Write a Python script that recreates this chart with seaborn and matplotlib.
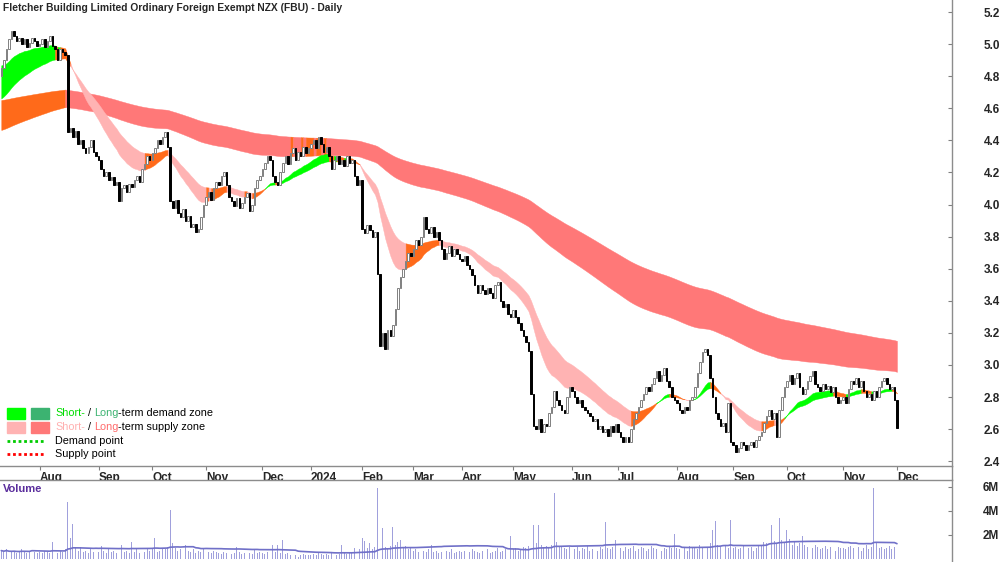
import numpy as np
import pandas as pd
import seaborn as sns
import matplotlib.pyplot as plt
from matplotlib.patches import Rectangle
from matplotlib.lines import Line2D

sns.set_style("white")
plt.rcParams['font.family'] = ['Liberation Sans', 'DejaVu Sans']

title = "Fletcher Building Limited Ordinary Foreign Exempt NZX (FBU) - Daily"

# daily closes, one list per month (Jul 2023 .. Dec 2024)
close_jul23 = [4.85, 4.90, 4.97, 5.03, 5.08, 5.05, 5.02, 5.04, 5.00, 5.03, 4.98, 5.01, 5.04, 5.02, 4.99]
close_aug23 = [5.00, 5.03, 4.98, 5.02, 5.05, 4.99, 4.97, 4.90, 4.97, 4.95, 4.93, 4.45, 4.48, 4.42, 4.46,
               4.38, 4.40, 4.35, 4.32, 4.36, 4.40, 4.33, 4.30]
close_sep23 = [4.28, 4.22, 4.18, 4.20, 4.15, 4.17, 4.12, 4.14, 4.02, 4.10, 4.12, 4.08, 4.13, 4.11, 4.15,
               4.18, 4.14, 4.22, 4.25, 4.30, 4.28]
close_oct23 = [4.32, 4.35, 4.40, 4.38, 4.42, 4.45, 4.36, 4.02, 3.98, 4.03, 3.95, 3.92, 3.97, 3.90, 3.93,
               3.86, 3.88, 3.83, 3.85, 3.92, 4.00]
close_nov23 = [4.05, 4.08, 4.03, 4.10, 4.14, 4.12, 4.18, 4.20, 4.12, 4.05, 4.02, 3.99, 4.04, 3.98, 4.01,
               4.05, 4.07, 3.96, 4.00, 4.10, 4.15, 4.18]
close_dec23 = [4.22, 4.26, 4.30, 4.28, 4.18, 4.14, 4.12, 4.20, 4.26, 4.30, 4.25, 4.32, 4.35, 4.28, 4.33,
               4.30, 4.36, 4.32, 4.35]
close_jan24 = [4.38, 4.40, 4.35, 4.42, 4.38, 4.33, 4.36, 4.30, 4.22, 4.28, 4.30, 4.25, 4.28, 4.24, 4.30,
               4.26, 4.28, 4.18, 4.12, 4.15]
close_feb24 = [3.85, 3.82, 3.87, 3.84, 3.80, 3.83, 3.57, 3.12, 3.20, 3.10, 3.22, 3.18, 3.25, 3.35, 3.48,
               3.55, 3.60, 3.65, 3.70, 3.68]
close_mar24 = [3.72, 3.78, 3.75, 3.80, 3.92, 3.85, 3.82, 3.86, 3.80, 3.83, 3.78, 3.72, 3.66, 3.70, 3.74,
               3.68, 3.72, 3.69, 3.66]
close_apr24 = [3.65, 3.68, 3.62, 3.60, 3.56, 3.50, 3.45, 3.50, 3.47, 3.44, 3.48, 3.45, 3.42, 3.50, 3.52,
               3.40, 3.36, 3.38, 3.32, 3.30]
close_may24 = [3.34, 3.30, 3.26, 3.22, 3.18, 3.14, 3.09, 2.82, 2.62, 2.60, 2.66, 2.58, 2.63, 2.62, 2.70,
               2.74, 2.84, 2.78, 2.75, 2.72, 2.70, 2.80, 2.86]
close_jun24 = [2.84, 2.80, 2.76, 2.78, 2.74, 2.72, 2.70, 2.68, 2.65, 2.66, 2.60, 2.62, 2.58, 2.60, 2.56,
               2.62, 2.58, 2.63]
close_jul24 = [2.58, 2.55, 2.52, 2.55, 2.52, 2.60, 2.66, 2.70, 2.74, 2.78, 2.82, 2.86, 2.84, 2.88, 2.92,
               2.96, 2.90, 2.94, 2.98, 2.90, 2.86, 2.80, 2.78]
close_aug24 = [2.76, 2.72, 2.70, 2.74, 2.72, 2.78, 2.80, 2.86, 2.95, 3.02, 3.08, 3.10, 3.06, 2.92, 2.80,
               2.70, 2.66, 2.62, 2.64, 2.58, 2.76, 2.52]
close_sep24 = [2.50, 2.46, 2.48, 2.52, 2.50, 2.47, 2.50, 2.52, 2.49, 2.53, 2.56, 2.58, 2.64, 2.68, 2.72,
               2.66, 2.70, 2.55, 2.72, 2.80, 2.86]
close_oct24 = [2.90, 2.94, 2.88, 2.92, 2.95, 2.86, 2.82, 2.85, 2.90, 2.93, 2.96, 2.88, 2.86, 2.84, 2.88,
               2.85, 2.87, 2.83, 2.86, 2.80, 2.76, 2.78]
close_nov24 = [2.80, 2.76, 2.85, 2.90, 2.88, 2.92, 2.86, 2.90, 2.84, 2.80, 2.82, 2.78, 2.84, 2.80, 2.86,
               2.90, 2.92, 2.88, 2.85, 2.86, 2.78]
close_dec24 = [2.61]
first_open = 4.80

# daily volume in millions, same months
vol_jul23 = [0.7, 0.6, 0.8, 0.5, 0.6, 0.7, 0.5, 0.6, 0.8, 0.6, 0.5, 0.7, 1.4, 0.6, 0.5]
vol_aug23 = [0.6, 0.5, 0.7, 0.6, 0.5, 1.4, 0.6, 0.5, 0.7, 0.6, 0.8, 4.75, 1.75, 2.9, 0.9, 0.7, 1.0, 0.6,
             0.7, 0.5, 0.8, 0.6, 1.2]
vol_sep23 = [0.6, 1.1, 0.7, 0.5, 0.8, 0.6, 0.7, 0.5, 1.15, 1.15, 0.6, 0.7, 0.5, 1.4, 0.6, 0.8, 0.5, 0.7,
             0.6, 0.9, 0.7]
vol_oct23 = [0.8, 1.75, 0.6, 0.7, 0.9, 0.8, 1.0, 4.1, 1.3, 0.9, 0.7, 0.8, 1.2, 1.2, 0.7, 0.6, 0.8, 0.5,
             0.7, 0.6, 0.8]
vol_nov23 = [1.2, 0.6, 0.5, 0.7, 0.6, 0.5, 0.4, 0.6, 0.5, 0.7, 0.4, 0.5, 1.0, 0.6, 0.4, 0.5, 0.3, 0.5,
             0.4, 0.8, 0.5, 0.6]
vol_dec23 = [0.5, 0.4, 0.6, 0.5, 1.15, 0.6, 1.15, 0.5, 1.6, 0.4, 0.5, 0.3, 0.4, 0.3, 0.2, 0.3, 0.4, 0.3,
             0.3]
vol_jan24 = [0.3, 0.4, 0.3, 0.5, 0.4, 0.3, 0.4, 0.3, 0.5, 0.4, 0.3, 0.4, 1.15, 0.5, 0.4, 0.5, 0.6, 0.9,
             0.7, 0.8]
vol_feb24 = [1.75, 1.5, 0.9, 1.3, 0.8, 1.0, 5.9, 4.15, 2.6, 1.0, 0.9, 1.1, 2.7, 1.2, 1.4, 1.6, 0.9, 1.1,
             0.8, 0.9]
vol_mar24 = [0.7, 0.8, 0.6, 0.9, 0.7, 0.6, 0.8, 1.2, 0.6, 0.7, 0.5, 0.6, 1.5, 0.7, 0.6, 0.8, 0.5, 0.6,
             0.7]
vol_apr24 = [0.6, 0.7, 0.5, 0.6, 0.8, 0.7, 0.6, 0.5, 0.7, 0.6, 0.8, 0.5, 0.6, 0.7, 0.9, 0.6, 0.7, 0.8,
             0.6, 1.9]
vol_may24 = [0.8, 0.9, 0.7, 0.8, 1.0, 0.9, 1.1, 4.0, 2.8, 1.3, 2.8, 1.2, 1.0, 1.1, 0.9, 1.2, 5.5, 1.4,
             1.0, 1.1, 0.9, 0.8, 1.0]
vol_jun24 = [0.9, 0.8, 1.0, 0.7, 0.9, 0.8, 1.1, 0.7, 0.8, 0.9, 0.7, 1.0, 0.8, 3.1, 0.9, 0.8, 1.0, 1.6]
vol_jul24 = [0.8, 0.9, 0.7, 1.0, 0.8, 0.9, 1.1, 0.7, 0.8, 1.0, 0.9, 0.7, 0.8, 1.1, 0.9, 0.8, 1.0, 0.7,
             0.9, 0.8, 1.0, 0.9, 2.1]
vol_aug24 = [0.9, 0.8, 1.0, 0.9, 0.7, 1.1, 0.9, 1.0, 0.8, 1.2, 1.0, 1.1, 0.9, 1.3, 2.4, 3.2, 1.2, 1.0,
             3.2, 1.1, 0.9, 3.25]
vol_sep24 = [0.9, 1.0, 0.8, 0.9, 1.1, 0.8, 0.9, 1.0, 0.7, 0.9, 1.2, 1.1, 1.4, 1.3, 6.0, 2.8, 1.5, 1.3,
             3.4, 1.6, 1.4]
vol_oct24 = [2.4, 1.7, 1.2, 1.4, 1.1, 1.3, 1.9, 1.2, 1.0, 1.1, 0.9, 1.2, 1.0, 0.8, 0.9, 1.1, 0.8, 1.0,
             0.9, 0.7, 1.0, 0.9]
vol_nov24 = [0.9, 0.8, 1.0, 1.1, 0.9, 0.8, 1.0, 0.7, 0.9, 1.2, 0.8, 1.0, 5.9, 1.3, 0.9, 1.0, 0.8, 0.9,
             1.1, 0.8, 1.0]
vol_dec24 = [1.5]

month_labels = ["Aug", "Sep", "Oct", "Nov", "Dec", "2024", "Feb", "Mar", "Apr", "May", "Jun",
                "Jul", "Aug", "Sep", "Oct", "Nov", "Dec"]

close_months = [close_jul23, close_aug23, close_sep23, close_oct23, close_nov23, close_dec23,
                close_jan24, close_feb24, close_mar24, close_apr24, close_may24, close_jun24,
                close_jul24, close_aug24, close_sep24, close_oct24, close_nov24, close_dec24]
vol_months = [vol_jul23, vol_aug23, vol_sep23, vol_oct23, vol_nov23, vol_dec23, vol_jan24, vol_feb24,
              vol_mar24, vol_apr24, vol_may24, vol_jun24, vol_jul24, vol_aug24, vol_sep24, vol_oct24,
              vol_nov24, vol_dec24]

# band settings: (period, starting value) for short fast/slow and long fast/slow
ema_periods = [20, 35, 160, 240]
ema_seeds = [4.87, 4.65, 4.46, 4.65]
vol_ma_window = 50

closes = np.concatenate([np.array(m, float) for m in close_months])
volume = np.concatenate([np.array(m, float) for m in vol_months])
opens = np.r_[first_open, closes[:-1]]
x = np.arange(len(closes))
month_starts = np.cumsum([len(m) for m in close_months])[:-1]


def ema(vals, period, seed):
    a = 2.0 / (period + 1)
    e = seed
    out = []
    for v in vals:
        e = e + a * (v - e)
        out.append(e)
    return np.array(out)


short_fast, short_slow, long_fast, long_slow = [ema(closes, p, s) for p, s in zip(ema_periods, ema_seeds)]

ORANGE = '#ff6a1a'


def draw_band(ax, fast, slow, c_dem, c_sup, z):
    lo = np.minimum(fast, slow)
    hi = np.maximum(fast, slow)
    d = np.diff((fast + slow) / 2)
    state = np.where((fast[1:] > slow[1:]) & (d > 0), 0,
                     np.where((fast[1:] < slow[1:]) & (d < 0), 1, 2))
    cols = [c_dem, c_sup, ORANGE]
    start = 0
    for i in range(1, len(state) + 1):
        if i == len(state) or state[i] != state[start]:
            sl = slice(start, i + 1)
            ax.fill_between(x[sl], lo[sl], hi[sl], color=cols[state[start]], lw=0.3,
                            edgecolor=cols[state[start]], zorder=z)
            start = i


W, H = 1000, 562
fig = plt.figure(figsize=(10, 5.62), dpi=100)
ax = fig.add_axes([0, 1 - 466 / H, 0.952, 466 / H])
ax2 = fig.add_axes([0, 0, 0.952, (H - 480) / H])

draw_band(ax, long_fast, long_slow, '#3cb371', '#ff7878', 1)
draw_band(ax, short_fast, short_slow, '#00ff00', '#ffb3b3', 2)

up = closes >= opens
body = np.abs(closes - opens)
body = np.where(body < 0.006, 0.006, body)
ax.bar(x[up], body[up], bottom=opens[up], width=0.6, color='white', edgecolor='#808080',
       linewidth=0.7, zorder=3)
ax.bar(x[~up], body[~up], bottom=closes[~up], width=0.6, color='black', edgecolor='black',
       linewidth=0.7, zorder=3)

ax.set_xlim(-0.5, 371.5)
ax.set_ylim(2.37, 5.275)
ax.yaxis.tick_right()
yt = np.round(np.arange(2.4, 5.21, 0.2), 1)
ax.set_yticks(yt, labels=[f"{v:.1f}" for v in yt], fontweight='bold', fontsize=8.5)
ax.tick_params(axis='y', direction='in', length=3, pad=23, color='#808080', right=True, left=False)
ax.set_xticks(month_starts, labels=month_labels, ha='left', fontweight='bold', fontsize=8.5)
ax.tick_params(axis='x', direction='out', length=3, pad=1, color='#808080', bottom=True)
for sp in ['top', 'left']:
    ax.spines[sp].set_visible(False)
for sp in ['bottom', 'right']:
    ax.spines[sp].set_color('#8c8c8c')
    ax.spines[sp].set_linewidth(1)

# volume panel
vol_ma = pd.Series(volume).rolling(vol_ma_window, min_periods=1).mean()
ax2.bar(x, volume, width=0.35, color='#a0a0dc', linewidth=0, zorder=2)
sns.lineplot(x=x, y=vol_ma.values, ax=ax2, color='#7070c8', linewidth=1.2, zorder=3)
ax2.set_xlim(-0.5, 371.5)
ax2.set_ylim(-0.25, 6.58)
ax2.yaxis.tick_right()
ax2.set_yticks([2, 4, 6], labels=['2M', '4M', '6M'], fontweight='bold', fontsize=8.5)
ax2.tick_params(axis='y', direction='in', length=3, pad=22, color='#808080', right=True, left=False)
ax2.set_xticks([])
for sp in ['bottom', 'left']:
    ax2.spines[sp].set_visible(False)
for sp in ['top', 'right']:
    ax2.spines[sp].set_color('#8c8c8c')
    ax2.spines[sp].set_linewidth(1)
fig.add_artist(Line2D([0.952, 0.952], [1 - 466 / H, 1 - 480 / H], color='#8c8c8c', lw=1))

fig.text(3 / W, 1 - 8 / H, title, fontweight='bold', fontsize=7.4, va='center', ha='left')
fig.text(3 / W, 1 - 489 / H, 'Volume', color='#5a2d9c', fontweight='bold', fontsize=8,
         va='center', ha='left')

# legend
r = fig.canvas.get_renderer()


def rich(x_px, y_px, parts):
    xx = x_px
    for s, c in parts:
        t = fig.text(xx / W, 1 - y_px / H, s, color=c, fontsize=7.8, va='center', ha='left')
        xx = t.get_window_extent(r).x1


def swatch(x_px, y_px, c):
    fig.add_artist(Rectangle((x_px / W, 1 - (y_px + 11) / H), 18 / W, 11 / H, color=c,
                             transform=fig.transFigure))


swatch(7, 408, '#00ff00')
swatch(31, 408, '#3cb371')
swatch(7, 422, '#ffb3b3')
swatch(31, 422, '#ff7878')
rich(55, 413, [("Short-", '#00dd00'), (" / ", 'black'), ("Long", '#3cb371'), ("-term demand zone", 'black')])
rich(55, 427, [("Short-", '#ffb0b0'), (" / ", 'black'), ("Long", '#ff6b6b'), ("-term supply zone", 'black')])
fig.add_artist(Line2D([7 / W, 44 / W], [1 - 441 / H, 1 - 441 / H], color='#00cc00', lw=2,
                      linestyle=(0, (1, 1))))
fig.add_artist(Line2D([7 / W, 44 / W], [1 - 454 / H, 1 - 454 / H], color='#ff0000', lw=2,
                      linestyle=(0, (1, 1))))
rich(55, 441, [("Demand point", 'black')])
rich(55, 454, [("Supply point", 'black')])

fig.savefig("out.png", dpi=100)
